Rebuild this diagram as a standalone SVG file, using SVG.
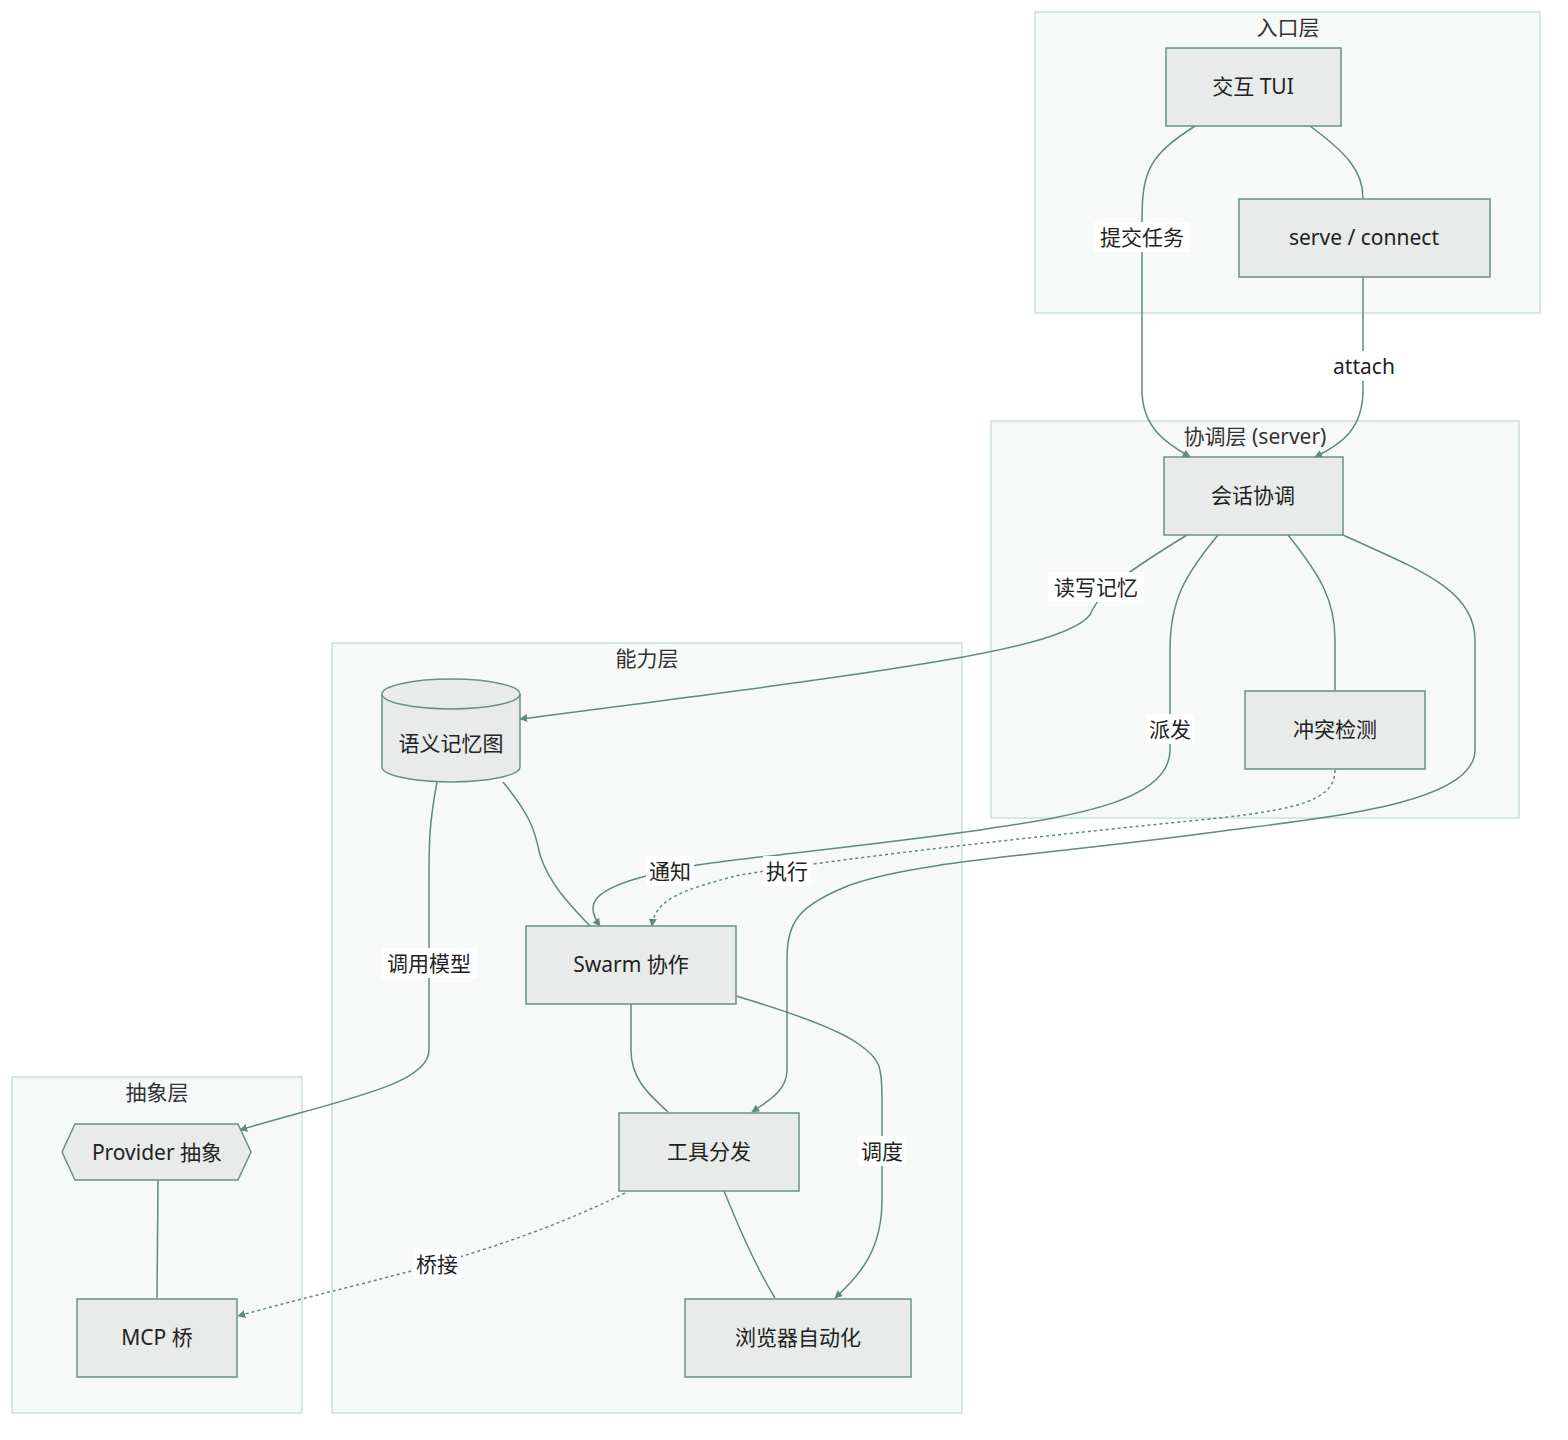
<svg xmlns="http://www.w3.org/2000/svg" width="1568" height="1440" viewBox="0 0 1568 1440">
<style>
.cl{fill:#f7f9f8;stroke:#c3dcd3;stroke-width:1.3}
.n{fill:#e8ebe9;stroke:#6a9184;stroke-width:1.5}
.t{font-family:"Noto Sans","Noto Sans CJK SC",sans-serif;font-size:21px;fill:#222;text-anchor:middle;dominant-baseline:central}
.ct{font-family:"Noto Sans","Noto Sans CJK SC",sans-serif;font-size:21px;fill:#333;text-anchor:middle;dominant-baseline:central}
.e{fill:none;stroke:#5f8a7c;stroke-width:1.5}
.d{stroke-dasharray:3,3}
.lb{fill:#fff}
</style>
<defs>
<marker id="a" viewBox="0 0 10 10" refX="9" refY="5" markerWidth="8" markerHeight="8" orient="auto-start-reverse" markerUnits="userSpaceOnUse"><path d="M0,0L10,5L0,10z" fill="#5f8a7c"/></marker>
</defs>
<rect width="1568" height="1440" fill="#fff"/>
<g id="clusters">
<rect class="cl" x="1035" y="12" width="505" height="301"/><text class="ct" x="1288" y="27">入口层</text>
<rect class="cl" x="991" y="421" width="528" height="397"/><text class="ct" x="1255" y="436">协调层 (server)</text>
<rect class="cl" x="332" y="643" width="630" height="770"/><text class="ct" x="647" y="658">能力层</text>
<rect class="cl" x="12" y="1077" width="290" height="336"/><text class="ct" x="157" y="1092">抽象层</text>
</g>
<g id="edges">
<path class="e" marker-end="url(#a)" d="M1195,126 C1150,155 1142,170 1142,220 L1142,390 C1142,430 1170,445 1190,457"/>
<path class="e" d="M1310,126 C1345,152 1363,170 1363,198"/>
<path class="e" marker-end="url(#a)" d="M1363,277 L1363,390 C1363,430 1340,445 1315,457"/>
<path class="e" marker-end="url(#a)" d="M1187,535 C1130,570 1100,590 1090,615 C1060,650 900,670 520,719"/>
<path class="e" marker-end="url(#a)" d="M1218,535 C1185,575 1170,600 1170,650 L1170,750 C1170,800 1080,815 980,830 C800,855 700,860 650,875 C590,890 585,905 600,926"/>
<path class="e" d="M1288,535 C1320,575 1335,600 1335,640 L1335,691"/>
<path class="e d" marker-end="url(#a)" d="M1335,770 C1335,800 1300,810 1200,820 C1000,840 830,860 740,875 C680,890 655,900 652,926"/>
<path class="e" marker-end="url(#a)" d="M1343,535 C1420,570 1475,590 1475,640 L1475,750 C1475,800 1350,815 1230,830 C1050,855 920,860 850,885 C800,905 787,920 787,960 L787,1070 C787,1090 770,1100 752,1112"/>
<path class="e" d="M503,782 C530,815 535,830 540,855 C550,885 570,905 590,926"/>
<path class="e" marker-end="url(#a)" d="M437,782 C430,820 429,835 429,880 L429,1050 C429,1085 340,1100 240,1130"/>
<path class="e" d="M631,1004 L631,1050 C631,1080 650,1095 668,1112"/>
<path class="e" marker-end="url(#a)" d="M736,996 C800,1015 840,1030 860,1045 C880,1060 882,1065 882,1100 L882,1200 C882,1250 860,1275 835,1298"/>
<path class="e" d="M724,1191 C740,1230 755,1265 775,1298"/>
<path class="e d" marker-end="url(#a)" d="M625,1193 C560,1225 500,1245 440,1263 C380,1280 310,1296 238,1316"/>
<path class="e" d="M158,1180 L157,1298"/>
</g>
<g id="edge-labels">
<rect class="lb" x="1094" y="222" width="96" height="30"/><text class="t" x="1142" y="237">提交任务</text>
<rect class="lb" x="1328" y="351" width="72" height="30"/><text class="t" x="1364" y="366">attach</text>
<rect class="lb" x="1048" y="572" width="96" height="30"/><text class="t" x="1096" y="587">读写记忆</text>
<rect class="lb" x="1146" y="714" width="48" height="30"/><text class="t" x="1170" y="729">派发</text>
<rect class="lb" x="646" y="856" width="48" height="30"/><text class="t" x="670" y="871">通知</text>
<rect class="lb" x="763" y="856" width="48" height="30"/><text class="t" x="787" y="871">执行</text>
<rect class="lb" x="381" y="948" width="96" height="30"/><text class="t" x="429" y="963">调用模型</text>
<rect class="lb" x="858" y="1136" width="48" height="30"/><text class="t" x="882" y="1151">调度</text>
<rect class="lb" x="413" y="1249" width="48" height="30"/><text class="t" x="437" y="1264">桥接</text>
</g>
<g id="n-tui"><rect class="n" x="1166" y="48" width="175" height="78"/><text class="t" x="1253" y="86">交互 TUI</text></g>
<g id="n-serve"><rect class="n" x="1239" y="199" width="251" height="78"/><text class="t" x="1364" y="237">serve / connect</text></g>
<g id="n-session"><rect class="n" x="1164" y="457" width="179" height="78"/><text class="t" x="1253" y="495">会话协调</text></g>
<g id="n-conflict"><rect class="n" x="1245" y="691" width="180" height="78"/><text class="t" x="1335" y="729">冲突检测</text></g>
<g id="n-memory"><path class="n" d="M382,694 A69,15 0 0 1 520,694 L520,767 A69,15 0 0 1 382,767 Z"/><path class="n" fill="none" d="M382,694 A69,15 0 0 0 520,694"/><text class="t" x="451" y="743">语义记忆图</text></g>
<g id="n-swarm"><rect class="n" x="526" y="926" width="210" height="78"/><text class="t" x="631" y="964">Swarm 协作</text></g>
<g id="n-tools"><rect class="n" x="619" y="1113" width="180" height="78"/><text class="t" x="709" y="1151">工具分发</text></g>
<g id="n-browser"><rect class="n" x="685" y="1299" width="226" height="78"/><text class="t" x="798" y="1337">浏览器自动化</text></g>
<g id="n-provider"><path class="n" d="M75,1124 L238,1124 L251,1152 L238,1180 L75,1180 L62,1152 Z"/><text class="t" x="157" y="1152">Provider 抽象</text></g>
<g id="n-mcp"><rect class="n" x="77" y="1299" width="160" height="78"/><text class="t" x="157" y="1337">MCP 桥</text></g>
</svg>
